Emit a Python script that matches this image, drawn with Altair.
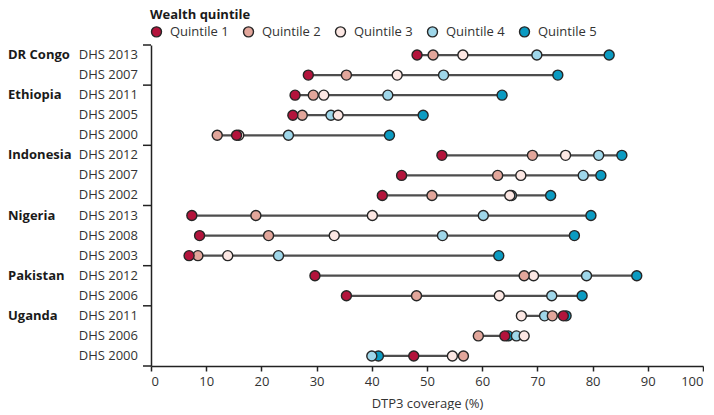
import altair as alt
import pandas as pd

countries = ["DR Congo", "DR Congo", "Ethiopia", "Ethiopia", "Ethiopia",
             "Indonesia", "Indonesia", "Indonesia", "Nigeria", "Nigeria", "Nigeria",
             "Pakistan", "Pakistan", "Uganda", "Uganda", "Uganda"]
surveys = ["DHS 2013", "DHS 2007", "DHS 2011", "DHS 2005", "DHS 2000",
           "DHS 2012", "DHS 2007", "DHS 2002", "DHS 2013", "DHS 2008", "DHS 2003",
           "DHS 2012", "DHS 2006", "DHS 2011", "DHS 2006", "DHS 2000"]
q1 = [48.2, 28.5, 26.1, 25.7, 15.5, 52.7, 45.4, 41.9, 7.4, 8.8, 6.9, 29.7, 35.4, 74.7, 64.1, 47.6]
q2 = [51.1, 35.4, 29.4, 27.4, 12.0, 69.1, 62.8, 50.9, 19.0, 21.3, 8.5, 67.6, 48.1, 72.7, 59.3, 56.6]
q3 = [56.5, 44.6, 31.3, 33.9, 15.9, 75.1, 67.0, 65.0, 40.1, 33.2, 13.9, 69.3, 63.1, 67.1, 67.6, 54.6]
q4 = [69.9, 53.0, 42.9, 32.6, 24.9, 81.1, 78.3, 65.3, 60.2, 52.8, 23.1, 78.9, 72.6, 71.3, 66.2, 40.0]
q5 = [83.0, 73.7, 63.6, 49.3, 43.2, 85.3, 81.5, 72.4, 79.7, 76.7, 63.0, 88.0, 78.1, 75.2, 64.7, 41.2]

quintiles = ["Quintile 1", "Quintile 2", "Quintile 3", "Quintile 4", "Quintile 5"]
colors = ["#b3143c", "#e2a69b", "#fce7e3", "#9fd7ea", "#0b9bc2"]
x_ticks = [0, 10, 20, 30, 40, 50, 60, 70, 80, 90, 100]

FONT = "Open Sans"
row_ids = [f"{c}|{s}" for c, s in zip(countries, surveys)]

rows = []
for i, rid in enumerate(row_ids):
    for qi, (qname, vals) in enumerate(zip(quintiles, [q1, q2, q3, q4, q5])):
        rows.append({"row": rid, "quintile": qname, "qi": qi + 1, "value": vals[i]})
long_df = pd.DataFrame(rows)

label_df = pd.DataFrame({
    "row": row_ids,
    "country": [c if (i == 0 or countries[i - 1] != c) else "" for i, c in enumerate(countries)],
    "survey": surveys,
})
group_df = label_df[label_df["country"] != ""]

W, H = 552, 321

yenc = alt.Y("row:N", sort=row_ids,
             scale=alt.Scale(type="band", paddingInner=0, paddingOuter=0),
             axis=alt.Axis(labels=False, ticks=False, title=None, grid=False,
                           domainColor="#222222", domainWidth=1.5))

base = alt.Chart(long_df)

lines = base.transform_aggregate(
    min_v="min(value)", max_v="max(value)", groupby=["row"]
).mark_rule(color="#4d4d4d", strokeWidth=2.2).encode(
    y=yenc,
    x=alt.X("min_v:Q", scale=alt.Scale(domain=[0, 100], nice=False),
            axis=alt.Axis(values=x_ticks, title="DTP3 coverage (%)", grid=False,
                          tickSize=5, tickWidth=1.5, tickColor="#222222",
                          domainColor="#222222", domainWidth=1.5,
                          labelFont=FONT, labelFontSize=13, labelColor="#333333",
                          labelPadding=4, titleFont=FONT, titleFontSize=13,
                          titleFontWeight="normal", titleColor="#333333", titlePadding=9)),
    x2="max_v:Q",
)

points = base.mark_point(filled=True, size=100, stroke="#262626", strokeWidth=1.4,
                         opacity=1, shape="circle").encode(
    y=yenc,
    x=alt.X("value:Q"),
    fill=alt.Fill("quintile:N", scale=alt.Scale(domain=quintiles, range=colors),
                  legend=alt.Legend(title="Wealth quintile", orient="none",
                                    legendX=-1, legendY=-36, direction="horizontal",
                                    titleFont=FONT, titleFontSize=13, titleFontWeight="bold",
                                    titleColor="#1a1a1a", titlePadding=3,
                                    labelFont=FONT, labelFontSize=13, labelColor="#333333",
                                    labelOffset=7, columnPadding=11, symbolType="circle",
                                    symbolSize=100, symbolStrokeColor="#262626",
                                    symbolStrokeWidth=1.4, symbolOpacity=1)),
    order=alt.Order("qi:Q", sort="descending"),
)

survey_text = alt.Chart(label_df).mark_text(
    align="right", baseline="middle", font=FONT, fontSize=13, color="#333333"
).encode(y=yenc, x=alt.value(-13), text="survey:N")

country_text = alt.Chart(group_df).mark_text(
    align="left", baseline="middle", font=FONT, fontSize=13, fontWeight="bold", color="#1a1a1a"
).encode(y=yenc, x=alt.value(-143), text="country:N")

group_ticks = alt.Chart(group_df).mark_rule(color="#222222", strokeWidth=1.5).encode(
    y=alt.Y("row:N", sort=row_ids, bandPosition=0),
    x=alt.value(-8), x2=alt.value(0),
)

bottom_ext = alt.Chart(group_df.head(1)).mark_rule(color="#222222", strokeWidth=1.5).encode(
    y=alt.value(H), x=alt.value(-8), x2=alt.value(0),
)

chart = alt.layer(lines, points, survey_text, country_text, group_ticks, bottom_ext).properties(
    width=W, height=H,
    padding={"left": 0, "top": 1, "right": 0, "bottom": 0},
    background="white",
).configure_view(stroke=None)

chart.save("out.html", embed_options={"renderer": "svg", "actions": False})
